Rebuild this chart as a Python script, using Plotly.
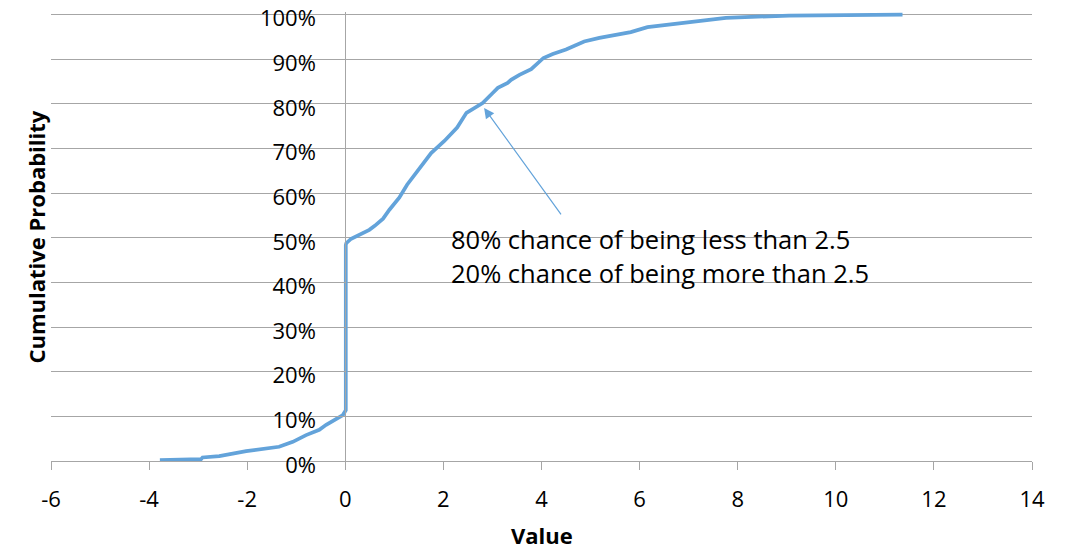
import plotly.graph_objects as go

# CDF curve
values = [-3.78, -2.94, -2.91, -2.57, -2.02, -1.35, -1.07, -0.80, -0.53, -0.39, -0.05, 0.01,
          0.01, 0.02, 0.12, 0.49, 0.60, 0.69, 0.77, 0.90, 1.10, 1.26, 1.41, 1.61, 1.75, 2.02,
          2.28, 2.47, 2.80, 3.00, 3.11, 3.31, 3.38, 3.55, 3.79, 4.04, 4.23, 4.50, 4.87, 5.18,
          5.82, 6.16, 7.76, 9.05, 11.36]
cum_prob = [0.002, 0.004, 0.008, 0.011, 0.022, 0.032, 0.043, 0.058, 0.070, 0.081, 0.103, 0.114,
            0.484, 0.488, 0.498, 0.518, 0.527, 0.536, 0.543, 0.563, 0.590, 0.619, 0.641, 0.668, 0.690, 0.717,
            0.747, 0.780, 0.802, 0.824, 0.836, 0.847, 0.854, 0.865, 0.878, 0.903, 0.912, 0.922, 0.940, 0.948,
            0.961, 0.972, 0.993, 0.998, 1.000]

x_ticks = [-6, -4, -2, 0, 2, 4, 6, 8, 10, 12, 14]
x_tick_labels = ["-6", "-4", "-2", "0", "2", "4", "6", "8", "10", "12", "14"]
y_ticks = [0, 0.1, 0.2, 0.3, 0.4, 0.5, 0.6, 0.7, 0.8, 0.9, 1.0]
y_tick_labels = ["0%", "10%", "20%", "30%", "40%", "50%", "60%", "70%", "80%", "90%", "100%"]

annot_lines = ["80% chance of being less than 2.5", "20% chance of being more than 2.5"]
arrow_head = (2.83, 0.791)
arrow_tail = (4.42, 0.549)

LINE = "#63A3DA"
GRID = "#A6A6A6"
FONT = "Open Sans"

fig = go.Figure()
fig.add_trace(go.Scatter(x=values, y=cum_prob, mode="lines",
                         line=dict(color=LINE, width=3.7), showlegend=False, hoverinfo="skip"))

# the page body has an 8px margin, so the figure is 8px smaller and shifted
fig.update_layout(
    width=1061, height=541,
    margin=dict(l=43, r=37, t=4, b=88, autoexpand=False),
    paper_bgcolor="white", plot_bgcolor="white",
    font=dict(family=FONT, size=22, color="black"),
    xaxis=dict(range=[-6, 14], tickvals=x_ticks, ticktext=x_tick_labels,
               showgrid=False, zeroline=False,
               showline=True, linecolor=GRID, linewidth=1,
               ticks="outside", ticklen=8, tickcolor=GRID, tickwidth=1,
               ticklabelstandoff=11, ticklabeloverflow="allow",
               tickfont=dict(size=22, family=FONT, color="black")),
    yaxis=dict(range=[0, 1.006], tickvals=y_ticks, ticktext=y_tick_labels,
               anchor="free", position=0.3,
               showgrid=True, gridcolor=GRID, gridwidth=1, zeroline=False,
               showline=True, linecolor=GRID, linewidth=1,
               ticks="outside", ticklen=9, tickcolor=GRID, tickwidth=1,
               ticklabelstandoff=16, ticklabelshift=4, ticklabeloverflow="allow",
               tickfont=dict(size=22, family=FONT, color="black")),
)

annotations = [
    dict(x=arrow_head[0], y=arrow_head[1], ax=arrow_tail[0], ay=arrow_tail[1],
         xref="x", yref="y", axref="x", ayref="y", text="", showarrow=True,
         arrowhead=2, arrowsize=1.7, arrowwidth=1.2, arrowcolor=LINE, standoff=0),
    dict(x=2.12, y=0.498, xref="x", yref="y", text=annot_lines[0], showarrow=False,
         xanchor="left", yanchor="middle", font=dict(size=25.5, family=FONT, color="black")),
    dict(x=2.12, y=0.4215, xref="x", yref="y", text=annot_lines[1], showarrow=False,
         xanchor="left", yanchor="middle", font=dict(size=25.5, family=FONT, color="black")),
    dict(x=0.5, y=-0.1648, xref="paper", yref="paper", text="<b>Value</b>", showarrow=False,
         xanchor="center", yanchor="middle", font=dict(size=22, family=FONT, color="black")),
    dict(x=-0.0153, y=0.5, xref="paper", yref="paper", text="<b>Cumulative Probability</b>",
         showarrow=False, textangle=-90, xanchor="center", yanchor="middle",
         font=dict(size=22, family=FONT, color="black")),
]
fig.update_layout(annotations=annotations)

fig.write_html("out.html")
